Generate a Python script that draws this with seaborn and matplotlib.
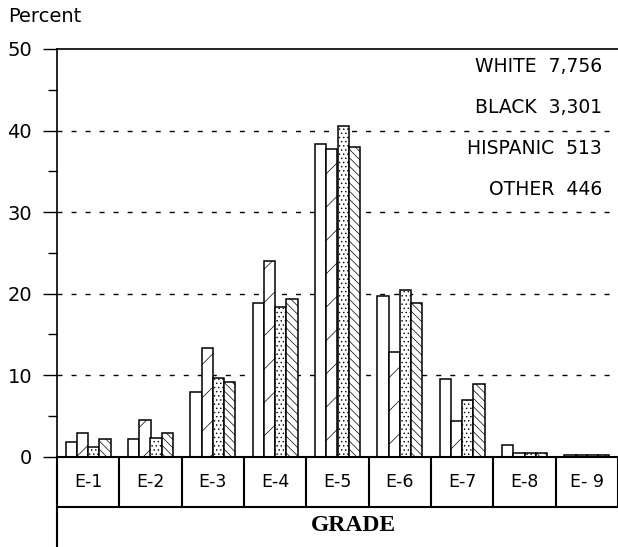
import numpy as np
import pandas as pd
import matplotlib
matplotlib.use('Agg')
import matplotlib.pyplot as plt
from matplotlib.ticker import MultipleLocator
import matplotlib.transforms as mtransforms
import seaborn as sns

grades = ['E-1', 'E-2', 'E-3', 'E-4', 'E-5', 'E-6', 'E-7', 'E-8', 'E- 9']
groups = ['WHITE', 'BLACK', 'HISPANIC', 'OTHER']
counts = ['7,756', '3,301', '513', '446']

white = [1.8, 2.2, 7.9, 18.8, 38.4, 19.7, 9.5, 1.4, 0.2]
black = [2.85, 4.5, 13.3, 24.0, 37.7, 12.9, 4.4, 0.4, 0.2]
hispanic = [1.2, 2.3, 9.7, 18.3, 40.5, 20.5, 7.0, 0.4, 0.2]
other = [2.2, 2.9, 9.15, 19.4, 38.0, 18.8, 8.9, 0.4, 0.2]

hatches = ['', '/', '....', '\\\\\\\\']

df = pd.DataFrame({
    'grade': grades * 4,
    'group': sum([[g] * len(grades) for g in groups], []),
    'pct': white + black + hispanic + other,
})

sns.set_style('white')
plt.rcParams['font.family'] = ['DejaVu Sans']
plt.rcParams['text.color'] = 'black'
plt.rcParams['ytick.color'] = 'black'
plt.rcParams['hatch.linewidth'] = 0.5
plt.rcParams['hatch.color'] = 'black'

fig = plt.figure(figsize=(6.18, 5.47), dpi=100)
ax = fig.add_axes([57 / 618, (547 - 456.7) / 547, 1 - 57 / 618, (456.7 - 49) / 547])

sns.barplot(data=df, x='grade', y='pct', hue='group', order=grades, hue_order=groups,
            palette=['white'] * 4, edgecolor='black', linewidth=1.1, width=0.72,
            saturation=1, legend=False, ax=ax)
for cont, h in zip(ax.containers, hatches):
    for p in cont.patches:
        p.set_hatch(h)

ax.set_xlim(-0.5, len(grades) - 0.5)
ax.set_ylim(0, 50)
ax.yaxis.set_major_locator(MultipleLocator(10))
ax.yaxis.set_minor_locator(MultipleLocator(5))
ax.tick_params(axis='y', which='major', direction='out', length=10, width=1,
               labelsize=14, pad=8, left=True, color='black', labelcolor='black')
ax.tick_params(axis='y', which='minor', direction='out', length=6.5, width=1, left=True, color='black')
ax.tick_params(axis='x', bottom=False, labelbottom=False)
ax.set_xlabel('')
ax.set_ylabel('')

for y in [10, 20, 30, 40]:
    ax.axhline(y, color='black', lw=1.0, linestyle=(0, (3.6, 6.5)), zorder=0)

ax.spines['right'].set_visible(False)
for s in ['left', 'top', 'bottom']:
    ax.spines[s].set_color('black')
    ax.spines[s].set_linewidth(1.2)
ax.spines['bottom'].set_linewidth(1.5)

# category boxes under the axis
trans = mtransforms.blended_transform_factory(ax.transData, ax.transAxes)
box_bottom = -(507 - 456.7) / 407.7
ax.plot([-0.5, -0.5], [0, -0.3], transform=trans, color='black', lw=1.5, clip_on=False)
ax.plot([-0.5, len(grades) - 0.5], [box_bottom, box_bottom], transform=trans,
        color='black', lw=1.5, clip_on=False)
for i in range(len(grades)):
    ax.plot([i + 0.5, i + 0.5], [0, box_bottom], transform=trans, color='black', lw=1.5, clip_on=False)
    ax.text(i, box_bottom / 2, grades[i], transform=trans, ha='center', va='center',
            fontsize=12.5, color='black')

fig.text(353 / 618, 1 - 525.7 / 547, 'GRADE', ha='center', va='center', fontsize=17,
         fontweight='bold', family='Liberation Serif', color='black')
fig.text(8 / 618, 1 - 17 / 547, 'Percent', ha='left', va='center', fontsize=14, color='black')

for k, (g, c) in enumerate(zip(groups, counts)):
    fig.text(602 / 618, 1 - (67 + 40.7 * k) / 547, g + '  ' + c, ha='right', va='center',
             fontsize=13.5, color='black')

fig.savefig('out.png', dpi=100)
